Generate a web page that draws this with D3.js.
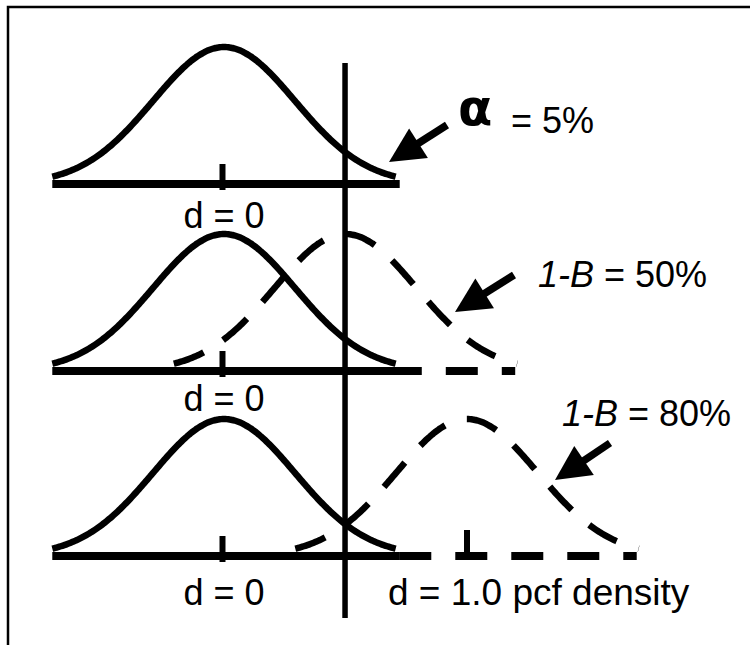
<!DOCTYPE html>
<html><head><meta charset="utf-8">
<script src="https://cdn.jsdelivr.net/npm/d3@7"></script>
<style>body{margin:0;background:#fff}svg{display:block}</style>
</head><body><svg id="c" width="750" height="645"></svg>
<script>
// ---------- data ----------
const nullMean = 0;                 // d under H0
const effectSD = 0.292;             // sd of the sampling distribution (pcf)
const criticalD = 0.494;            // critical value (alpha = 5%)
const altMeans = [null, 0.5, 1.0];  // alternative means per panel
const nullLabels = ["d = 0", "d = 0", "d = 0"];
const annotationSymbols = ["α", "1-B", "1-B"];
const annotationValues = ["= 5%", "= 50%", "= 80%"];
const altTickLabel = "d = 1.0 pcf density";
const zSpan = 2.42;                 // curves drawn to ±2.42 sd

// ---------- layout ----------
const svg = d3.select("#c");
const x = d3.scaleLinear().domain([0, 1]).range([224, 467]);
const baselines = [184, 371, 556];
const peakPx = 137;
const labelBase = [228, 411, 605];
const peakDensity = 1 / (effectSD * Math.sqrt(2 * Math.PI));
const FONT = "'Liberation Sans', Arial, Helvetica, sans-serif";

// frame (only top and left edges visible)
svg.append("rect").attr("x", 8).attr("y", 7).attr("width", 800).attr("height", 700)
  .attr("fill", "none").attr("stroke", "#000").attr("stroke-width", 2.5);

function pdf(v, m) {
  const z = (v - m) / effectSD;
  return Math.exp(-0.5 * z * z) / (effectSD * Math.sqrt(2 * Math.PI));
}
function curvePoints(m) {
  return d3.range(-zSpan, zSpan + 1e-9, 0.02).map(z => {
    const v = m + z * effectSD;
    return [v, pdf(v, m)];
  });
}

baselines.forEach((base, i) => {
  const y = d3.scaleLinear().domain([0, peakDensity]).range([base, base - peakPx]);
  const line = d3.line().x(d => x(d[0])).y(d => y(d[1])).curve(d3.curveBasis);
  const g = svg.append("g");

  // null baseline (solid)
  g.append("line")
    .attr("x1", x(nullMean - zSpan * effectSD)).attr("x2", x(nullMean + zSpan * effectSD) + 4)
    .attr("y1", y(0)).attr("y2", y(0))
    .attr("stroke", "#000").attr("stroke-width", 8);

  // alternative distribution (dashed)
  const am = altMeans[i];
  if (am !== null) {
    g.append("line")
      .attr("x1", x(am - zSpan * effectSD) - 8).attr("x2", x(am + zSpan * effectSD) - 2)
      .attr("y1", y(0)).attr("y2", y(0))
      .attr("stroke", "#000").attr("stroke-width", 8)
      .attr("stroke-dasharray", "32,24");
    g.append("path").attr("d", line(curvePoints(am)))
      .attr("fill", "none").attr("stroke", "#000").attr("stroke-width", 6.5)
      .attr("stroke-dasharray", "32,23");
    if (i === 2) {
      g.append("line").attr("x1", x(am)).attr("x2", x(am))
        .attr("y1", y(0)).attr("y2", y(0) - 26)
        .attr("stroke", "#000").attr("stroke-width", 6);
    }
  }

  // null curve (solid)
  g.append("path").attr("d", line(curvePoints(nullMean)))
    .attr("fill", "none").attr("stroke", "#000").attr("stroke-width", 6.5);

  // tick at d = 0
  g.append("line").attr("x1", x(nullMean) - 1.5).attr("x2", x(nullMean) - 1.5)
    .attr("y1", y(0) - 20).attr("y2", y(0) + 6)
    .attr("stroke", "#000").attr("stroke-width", 6);

  // label under null mean
  g.append("text").attr("x", x(nullMean)).attr("y", labelBase[i])
    .attr("text-anchor", "middle").attr("font-family", FONT).attr("font-size", 36)
    .text(nullLabels[i]);
});

// alternative tick label
svg.append("text").attr("x", 388).attr("y", labelBase[2])
  .attr("font-family", FONT).attr("font-size", 37).text(altTickLabel);

// critical value line
svg.append("line").attr("x1", x(criticalD) + 1).attr("x2", x(criticalD) + 1)
  .attr("y1", 63).attr("y2", 618)
  .attr("stroke", "#000").attr("stroke-width", 5.5);

// arrows
const arrows = [
  {tip: [389, 162], tail: [447, 125]},
  {tip: [455, 312], tail: [514, 275]},
  {tip: [555, 480], tail: [610, 443]}
];
arrows.forEach(a => {
  const dx = a.tail[0] - a.tip[0], dy = a.tail[1] - a.tip[1];
  const L = Math.hypot(dx, dy), ux = dx / L, uy = dy / L;
  const hl = 35, hw = 17.5;
  const bx = a.tip[0] + ux * hl, by = a.tip[1] + uy * hl;
  svg.append("line").attr("x1", bx - ux * 2).attr("y1", by - uy * 2)
    .attr("x2", a.tail[0]).attr("y2", a.tail[1])
    .attr("stroke", "#000").attr("stroke-width", 7.5);
  svg.append("path").attr("d", d3.line()([
    a.tip, [bx - uy * hw, by + ux * hw], [bx + uy * hw, by - ux * hw]
  ]) + "Z").attr("fill", "#000");
});

// annotations
svg.append("text").attr("x", 458).attr("y", 125)
  .attr("font-family", "'DejaVu Sans', sans-serif").attr("font-weight", "bold")
  .attr("font-size", 50).text(annotationSymbols[0]);
svg.append("text").attr("x", 511).attr("y", 133)
  .attr("font-family", FONT).attr("font-size", 36).text(annotationValues[0]);

[[538, 287, 1], [562, 426, 2]].forEach(([tx, ty, k]) => {
  const t = svg.append("text").attr("x", tx).attr("y", ty)
    .attr("font-family", FONT).attr("font-size", 36);
  t.append("tspan").attr("font-style", "italic").text(annotationSymbols[k]);
  t.append("tspan").text(" " + annotationValues[k]);
});
</script></body></html>
